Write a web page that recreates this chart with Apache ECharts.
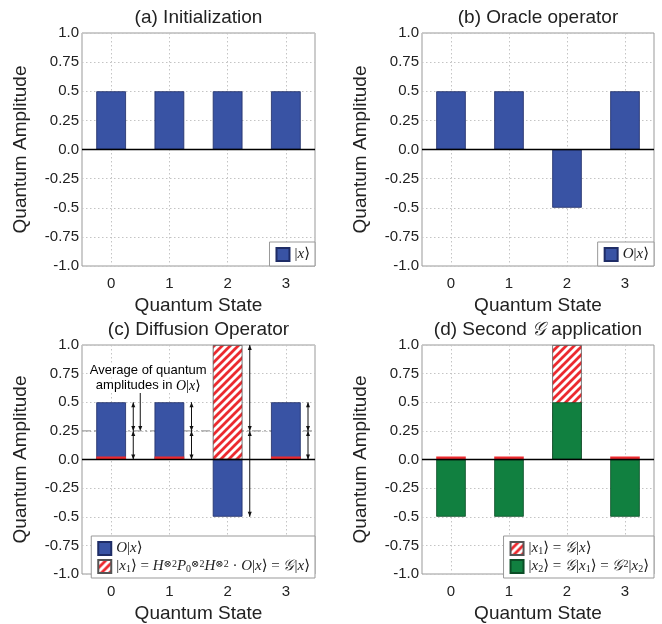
<!DOCTYPE html>
<html><head><meta charset="utf-8">
<script src="https://cdn.jsdelivr.net/npm/echarts@6/dist/echarts.min.js"></script>
<style>html,body{margin:0;padding:0;background:#fff}#c{width:662px;height:624px}</style>
</head><body><div id="c"></div>
<script>
// ---- data ----
const categories = ['0', '1', '2', '3'];
const yTickValues = [-1, -0.75, -0.5, -0.25, 0, 0.25, 0.5, 0.75, 1];
const yTickLabels = ['-1.0', '-0.75', '-0.5', '-0.25', '0.0', '0.25', '0.5', '0.75', '1.0'];
const initAmp = [0.5, 0.5, 0.5, 0.5];
const oracleAmp = [0.5, 0.5, -0.5, 0.5];
const diffOracleAmp = [0.5, 0.5, -0.5, 0.5];
const diffX1Amp = [0, 0, 1, 0];
const secondX1Amp = [0, 0, 1, 0];
const secondX2Amp = [-0.5, -0.5, 0.5, -0.5];
const averageAmp = 0.25;
const annotationLines = ['Average of quantum', 'amplitudes in '];

// ---- styles ----
const BLUE = '#3953a4', GREEN = '#118040', RED = '#ec2a2f';
const SANS = 'Liberation Sans, Arial, sans-serif';
const SERIF = 'Liberation Serif, DejaVu Serif, serif';
const GRIDS = [
  {left: 82, top: 33, width: 233, height: 233},
  {left: 422, top: 33, width: 232, height: 233},
  {left: 82, top: 345, width: 233, height: 233},
  {left: 422, top: 345, width: 232, height: 233}
];
function makeRich(fs) {
  return {
    i: {fontFamily: SERIF, fontStyle: 'italic', fontSize: fs, color: '#222'},
    r: {fontFamily: SERIF, fontSize: fs, color: '#222'},
    g: {fontFamily: SERIF, fontStyle: 'italic', fontSize: fs, color: '#222'},
    sup: {fontFamily: SERIF, fontSize: Math.round(fs * 0.66), color: '#222', verticalAlign: 'top'},
    sub: {fontFamily: SERIF, fontSize: Math.round(fs * 0.66), color: '#222', verticalAlign: 'bottom'}
  };
}
const mathRich = makeRich(15);
const legendLabels = {
  x: '{r||}{i|x}{r|⟩}',
  Ox: '{i|O}{r||}{i|x}{r|⟩}',
  x1c: '{r||}{i|x}{sub|1}{r|⟩ = }{i|H}{sup|⊗2}{i|P}{sub|0}{sup|⊗2}{i|H}{sup|⊗2}{r| · }{i|O}{r||}{i|x}{r|⟩ = }{g|𝒢}{r||}{i|x}{r|⟩}',
  x1d: '{r||}{i|x}{sub|1}{r|⟩ = }{g|𝒢}{r||}{i|x}{r|⟩}',
  x2: '{r||}{i|x}{sub|2}{r|⟩ = }{g|𝒢}{r||}{i|x}{sub|1}{r|⟩ = }{g|𝒢}{sup|2}{r||}{i|x}{sub|2}{r|⟩}'
};

function hatch() {
  const s = 8, c = document.createElement('canvas');
  c.width = s; c.height = s;
  const g = c.getContext('2d');
  g.fillStyle = '#fff'; g.fillRect(0, 0, s, s);
  g.strokeStyle = RED; g.lineWidth = 2.8;
  g.beginPath();
  g.moveTo(-2, s + 2); g.lineTo(s + 2, -2);
  g.moveTo(-2, 2); g.lineTo(2, -2);
  g.moveTo(s - 2, s + 2); g.lineTo(s + 2, s - 2);
  g.stroke();
  return c;
}
const HATCH = {image: hatch(), repeat: 'repeat'};

const gridLine = {show: true, lineStyle: {color: '#c4c4c4', type: [1.5, 2.5], width: 1}};
const xAxes = GRIDS.map((g, i) => ({
  type: 'category', gridIndex: i, data: categories,
  axisLine: {show: false}, axisTick: {show: false, alignWithLabel: true},
  axisLabel: {fontFamily: SANS, fontSize: 15, color: '#222', margin: 10},
  splitLine: Object.assign({alignWithLabel: true}, gridLine),
  name: 'Quantum State', nameLocation: 'middle', nameGap: 30,
  nameTextStyle: {fontFamily: SANS, fontSize: 19, color: '#222'}
}));
const yAxes = GRIDS.map((g, i) => ({
  type: 'value', gridIndex: i, min: -1, max: 1, interval: 0.25,
  axisLine: {show: false}, axisTick: {show: false},
  axisLabel: {fontFamily: SANS, fontSize: 15, color: '#222', margin: 3,
    formatter: v => yTickLabels[yTickValues.findIndex(t => Math.abs(t - v) < 1e-9)]},
  splitLine: gridLine,
  name: 'Quantum Amplitude', nameLocation: 'middle', nameGap: 52,
  nameTextStyle: {fontFamily: SANS, fontSize: 19, color: '#222'}
}));

const zeroLine = {
  silent: true, symbol: 'none', label: {show: false},
  lineStyle: {color: '#000', type: 'solid', width: 1.3},
  data: [{yAxis: 0}]
};
function barSeries(name, idx, values, color, border, extra) {
  return Object.assign({
    type: 'bar', name: name, xAxisIndex: idx, yAxisIndex: idx,
    data: values, barWidth: '51%', barGap: '-100%',
    itemStyle: {color: color, borderColor: border, borderWidth: 0.8}
  }, extra || {});
}
function hatchData(values) {
  return values.map(v => v === 0 ? {value: v, itemStyle: {color: RED, borderWidth: 0}} : v);
}

function renderArrow(params, api) {
  const cat = api.value(0), y0 = api.value(1), y1 = api.value(2);
  const bw = api.size([1, 0])[0];
  const p0 = api.coord([cat, y0]), p1 = api.coord([cat, y1]);
  const x = p0[0] + bw * 0.38;
  const dir = p1[1] > p0[1] ? 1 : -1;
  const h = 5, w = 2;
  return {type: 'group', children: [
    {type: 'line', shape: {x1: x, y1: p0[1], x2: x, y2: p1[1]}, style: {stroke: '#111', lineWidth: 1}},
    {type: 'polygon', shape: {points: [[x, p0[1]], [x - w, p0[1] + dir * h], [x + w, p0[1] + dir * h]]}, style: {fill: '#111'}},
    {type: 'polygon', shape: {points: [[x, p1[1]], [x - w, p1[1] - dir * h], [x + w, p1[1] - dir * h]]}, style: {fill: '#111'}}
  ]};
}
const arrowData = [];
diffOracleAmp.forEach((v, i) => {
  arrowData.push([i, v, averageAmp]);
  arrowData.push([i, averageAmp, diffX1Amp[i]]);
});

function renderAvg(params, api) {
  const cs = params.coordSys;
  const y = api.coord([0, api.value(1)])[1];
  return {type: 'line', shape: {x1: cs.x, y1: y, x2: cs.x + cs.width, y2: y},
    style: {stroke: '#8a8a8a', lineWidth: 1, lineDash: [9, 3, 2, 3]}};
}
function renderNote(params, api) {
  const bw = api.size([1, 0])[0];
  const p = api.coord([api.value(0), api.value(1)]);
  const x = p[0] + bw / 2, y = p[1];
  const txtRich = Object.assign({}, makeRich(14), {
    s: {fontFamily: SANS, fontSize: 13, color: '#222'}
  });
  return {type: 'group', children: [
    {type: 'line', shape: {x1: x, y1: y - 42, x2: x, y2: y - 4}, style: {stroke: '#111', lineWidth: 1}},
    {type: 'polygon', shape: {points: [[x, y], [x - 2, y - 5], [x + 2, y - 5]]}, style: {fill: '#111'}},
    {type: 'text', style: {x: x + 8, y: y - 60, text: '{s|' + annotationLines[0] + '}',
      rich: txtRich, align: 'center', verticalAlign: 'middle', backgroundColor: '#fff', padding: [0, 1]}},
    {type: 'text', style: {x: x + 8, y: y - 45, text: '{s|' + annotationLines[1] + '}{i|O}{r||}{i|x}{r|⟩}',
      rich: txtRich, align: 'center', verticalAlign: 'middle', backgroundColor: '#fff', padding: [0, 1]}}
  ]};
}

const series = [
  barSeries('x', 0, initAmp, BLUE, '#1e2c66', {markLine: zeroLine}),
  barSeries('Ox', 1, oracleAmp, BLUE, '#1e2c66', {markLine: zeroLine}),
  {type: 'custom', xAxisIndex: 2, yAxisIndex: 2, z: 1, silent: true, data: [[0, averageAmp]],
    encode: {x: 0, y: 1}, renderItem: renderAvg},
  barSeries('Ox', 2, diffOracleAmp, BLUE, '#1e2c66', {markLine: zeroLine}),
  barSeries('x1c', 2, hatchData(diffX1Amp), HATCH, '#555', {barMinHeight: 3}),
  {type: 'custom', xAxisIndex: 2, yAxisIndex: 2, z: 4, silent: true, data: arrowData,
    encode: {x: 0, y: [1, 2]}, renderItem: renderArrow},
  {type: 'custom', xAxisIndex: 2, yAxisIndex: 2, z: 4, silent: true, data: [[0, averageAmp]],
    encode: {x: 0, y: 1}, renderItem: renderNote},
  barSeries('x1d', 3, hatchData(secondX1Amp), HATCH, '#555', {barMinHeight: 3, markLine: zeroLine}),
  barSeries('x2', 3, secondX2Amp, GREEN, '#0b4d26')
];

const legendBase = {
  orient: 'vertical', icon: 'rect', itemWidth: 13, itemHeight: 13, itemGap: 3,
  backgroundColor: '#fff', borderColor: '#999', borderWidth: 1, padding: [5, 5, 4, 6],
  borderRadius: 0, selectedMode: false,
  formatter: n => legendLabels[n],
  textStyle: {rich: mathRich, padding: [0, 0, 0, 0]}
};
const legends = [
  Object.assign({}, legendBase, {data: ['x'], right: 347, bottom: 358}),
  Object.assign({}, legendBase, {data: ['Ox'], right: 8, bottom: 358}),
  Object.assign({}, legendBase, {data: ['Ox', 'x1c'], right: 347, bottom: 46}),
  Object.assign({}, legendBase, {data: ['x1d', 'x2'], right: 8, bottom: 46})
];

const titleStyle = {fontFamily: SANS, fontSize: 19, fontWeight: 'normal', color: '#222',
  rich: {t: {fontFamily: SANS, fontSize: 19, color: '#222'},
         g: {fontFamily: SERIF, fontStyle: 'italic', fontSize: 19, color: '#222'}}};
const titleTexts = ['{t|(a) Initialization}', '{t|(b) Oracle operator}', '{t|(c) Diffusion Operator}', '{t|(d) Second }{g|𝒢}{t| application}'];
const titles = GRIDS.map((g, i) => ({
  text: titleTexts[i], left: g.left + g.width / 2, top: g.top - 25, textAlign: 'center',
  textStyle: titleStyle, padding: 0
}));

const chart = echarts.init(document.getElementById('c'), null, {renderer: 'canvas'});
chart.setOption({
  animation: false,
  backgroundColor: '#fff',
  title: titles,
  legend: legends,
  grid: GRIDS.map(g => Object.assign({show: true, borderColor: '#999', borderWidth: 1, backgroundColor: 'transparent'}, g)),
  xAxis: xAxes,
  yAxis: yAxes,
  series: series
});
</script></body></html>
